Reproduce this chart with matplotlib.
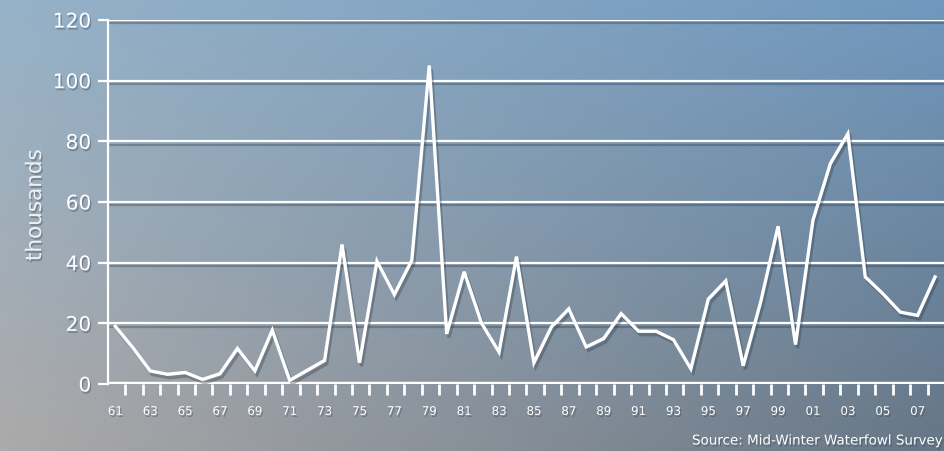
import matplotlib
matplotlib.use("Agg")
import matplotlib.pyplot as plt
import matplotlib.patheffects as pe
import numpy as np

# winter counts, thousands of birds, 1961-2008
years = list(range(1961, 2009))
counts = [19, 12, 4.3, 3.2, 3.8, 1.5, 3.4, 11.7, 4.3, 17.7,
          1.2, 4.5, 7.8, 46, 7, 40.5, 29.5, 40.8, 105, 16.5,
          37, 20, 10.5, 42, 7, 18.8, 24.8, 12.2, 15, 23.2,
          17.4, 17.4, 14.6, 5, 28, 34, 6, 27, 52, 13,
          54, 72.7, 82.5, 35.3, 29.8, 23.7, 22.6, 35.3]
yticks = [0, 20, 40, 60, 80, 100, 120]
year_labels = ["%02d" % (y % 100) for y in years]

W, H = 945, 451
fig = plt.figure(figsize=(W / 100, H / 100), dpi=100)

# photo-like background: blend of corner colours plus a grey middle band
bg = fig.add_axes([0, 0, 1, 1])
tl = np.array([150, 178, 200]) / 255
tr = np.array([112, 152, 190]) / 255
bl = np.array([172, 170, 170]) / 255
br = np.array([102, 118, 134]) / 255
u = np.linspace(0, 1, 200)[None, :, None]
v = np.linspace(0, 1, 100)[:, None, None]
img = (1 - v) * ((1 - u) * tl + u * tr) + v * ((1 - u) * bl + u * br)
bg.imshow(img, aspect="auto", extent=[0, 1, 0, 1])
bg.set_axis_off()

x0 = 108 / W
y0 = 1 - 384 / H
ax = fig.add_axes([x0, y0, 1 - x0, (384 - 20) / H])
ax.patch.set_alpha(0)

shadow = [pe.SimpleLineShadow(offset=(1.5, -2.5), shadow_color="#2d3c4a", alpha=0.35),
          pe.Normal()]
txt_shadow = [pe.withSimplePatchShadow(offset=(1, -1.5), shadow_rgbFace="#2d3c4a", alpha=0.35)]

idx = np.arange(len(years))
for t in yticks[1:]:
    ax.axhline(t, color="white", lw=1.6, zorder=2, path_effects=shadow)
ax.axhline(0, color="white", lw=3.2, zorder=3, path_effects=shadow)

ax.plot(idx, counts, color="white", lw=2.4, zorder=4,
        solid_joinstyle="miter", path_effects=shadow)

ax.set_ylim(0, 120)
ax.set_xlim(-0.42, (W - 115) / 17.5)

for s in ["top", "right", "bottom"]:
    ax.spines[s].set_visible(False)
ax.spines["left"].set_color("white")
ax.spines["left"].set_linewidth(1.6)

ax.set_yticks(yticks)
ax.set_yticklabels([str(t) for t in yticks])
ax.tick_params(axis="y", length=7, width=1.6, color="white", pad=5,
               labelsize=14.5, labelcolor="white")
for lab in ax.get_yticklabels():
    lab.set_path_effects(txt_shadow)

# bin edges as ticks, odd-year labels underneath
ax.set_xticks(idx + 0.57)
ax.set_xticklabels([])
ax.tick_params(axis="x", which="major", length=8, width=2, color="white",
               direction="out")
odd = [i for i, y in enumerate(years) if y % 2 == 1]
ax.set_xticks(odd, minor=True)
ax.set_xticklabels([year_labels[i] for i in odd], minor=True)
ax.tick_params(axis="x", which="minor", length=0, pad=15, labelsize=8.5,
               labelcolor="white")
for lab in ax.get_xticklabels(minor=True):
    lab.set_path_effects(txt_shadow)

fig.text(35 / W, 1 - 205 / H, "thousands", rotation=90, ha="center", va="center",
         fontsize=15.5, color="#eef0f3", path_effects=txt_shadow)
fig.text(692 / W, 1 - 441 / H, "Source: Mid-Winter Waterfowl Survey",
         ha="left", va="center", fontsize=9.7, color="white",
         path_effects=txt_shadow)

fig.savefig("out.png", dpi=100)
